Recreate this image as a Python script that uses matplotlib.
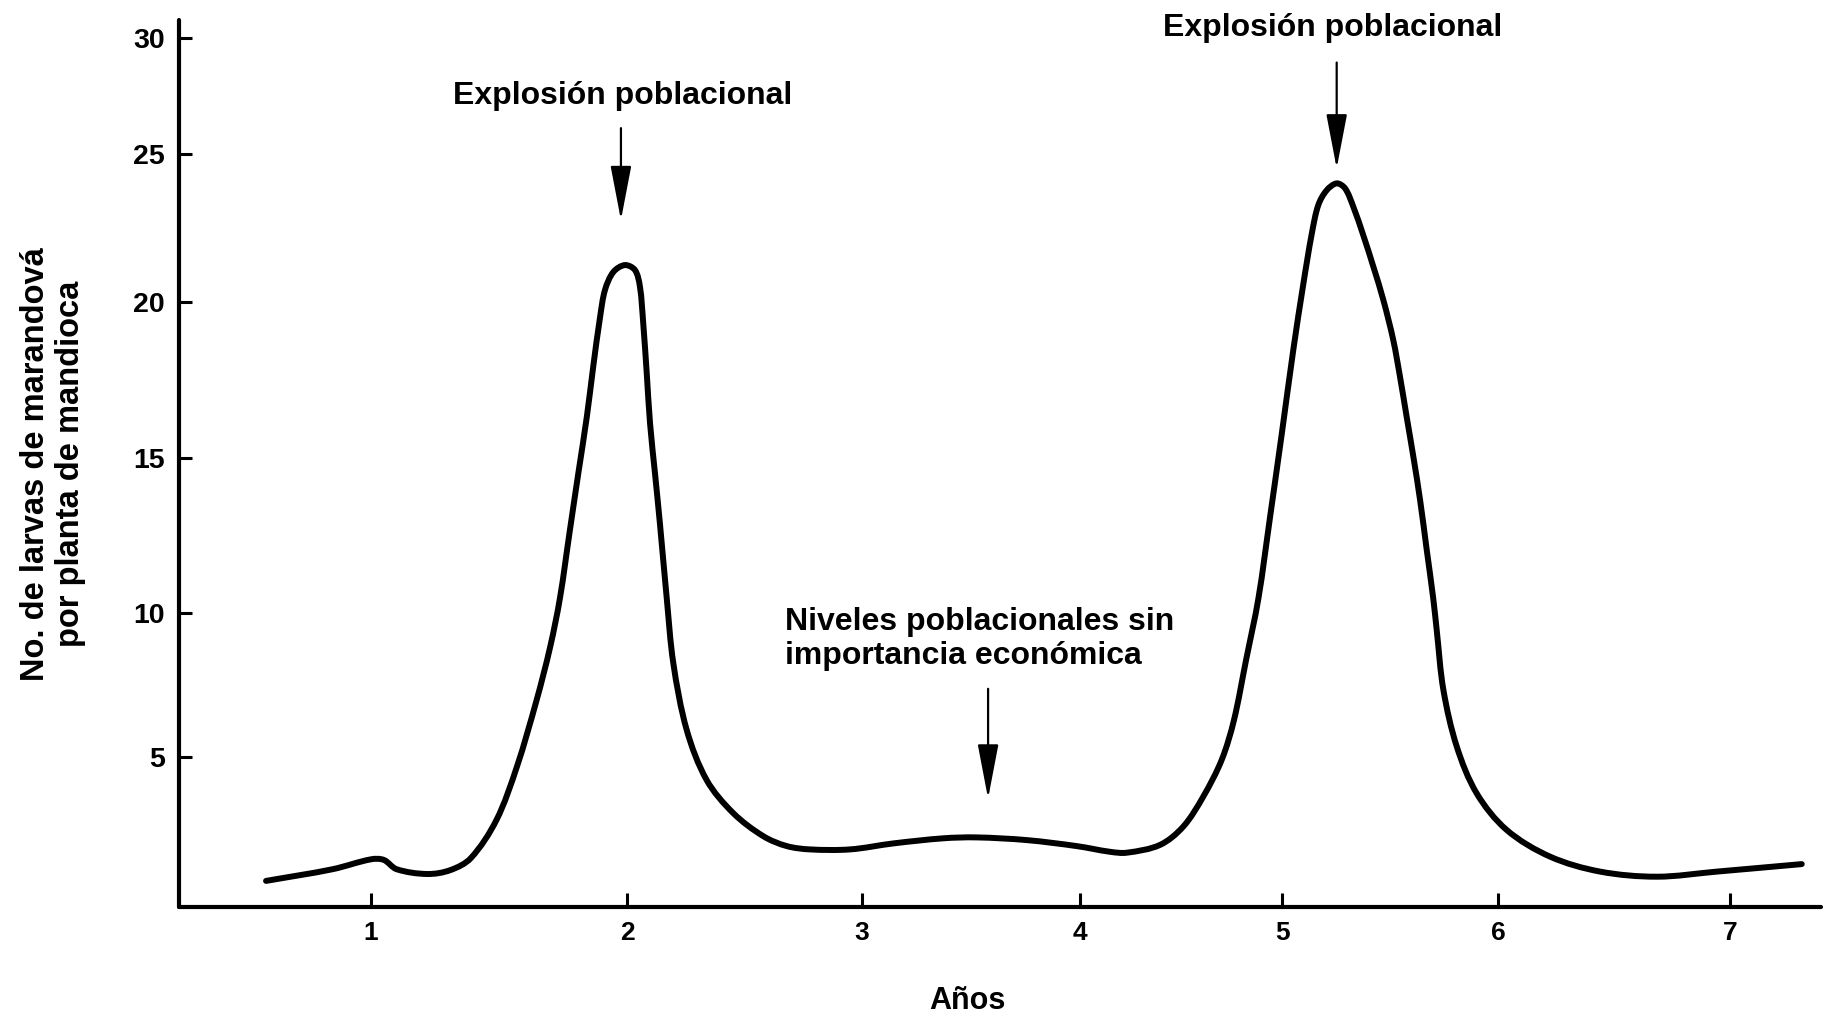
import numpy as np
import matplotlib
matplotlib.use("Agg")
import matplotlib.pyplot as plt
from matplotlib.patches import ArrowStyle, PathPatch
from matplotlib.path import Path
from matplotlib.transforms import offset_copy

# ---------------- data ----------------
years = [0.59, 0.85, 1.00, 1.05, 1.10, 1.22, 1.31, 1.39, 1.49, 1.57,
         1.647, 1.70, 1.738, 1.777, 1.810, 1.843, 1.868, 1.895, 1.914, 1.947,
         1.992, 2.034, 2.055, 2.069, 2.084, 2.098, 2.119, 2.140, 2.169, 2.197,
         2.254, 2.339, 2.452, 2.580, 2.680, 2.779, 2.949, 3.144, 3.373, 3.526,
         3.756, 3.985, 4.149, 4.231, 4.396, 4.511, 4.610, 4.701, 4.762, 4.822,
         4.883, 4.941, 4.999, 5.052, 5.099, 5.138, 5.168, 5.207, 5.253, 5.292,
         5.330, 5.376, 5.423, 5.469, 5.515, 5.546, 5.577, 5.608, 5.639, 5.670,
         5.700, 5.716, 5.747, 5.809, 5.901, 6.037, 6.224, 6.440, 6.684, 6.943,
         7.309]
larvae = [0.87, 1.26, 1.59, 1.57, 1.26, 1.10, 1.23, 1.63, 2.9, 4.68,
          6.98, 8.83, 10.48, 12.68, 14.52, 16.32, 17.93, 19.53, 20.41, 21.02,
          21.25, 21.08, 20.52, 19.32, 17.71, 16.11, 14.51, 12.89, 10.48, 8.26,
          5.94, 4.23, 3.13, 2.36, 2.03, 1.92, 1.92, 2.12, 2.29, 2.32,
          2.23, 2.03, 1.84, 1.81, 2.07, 2.68, 3.68, 4.9, 6.28, 8.37,
          10.47, 13.11, 15.79, 18.46, 20.63, 22.32, 23.28, 23.78, 24.01, 23.84,
          23.22, 22.26, 21.19, 20.07, 18.78, 17.61, 16.32, 15.04, 13.65, 12.03,
          10.47, 9.41, 7.33, 5.36, 3.79, 2.57, 1.68, 1.18, 1.01, 1.18,
          1.43]

x_ticks = [1, 2, 3, 4, 5, 6, 7]
x_tick_labels = ["1", "2", "3", "4", "5", "6", "7"]
y_ticks = [5, 10, 15, 20, 25, 30]
y_tick_labels = ["5", "10", "15", "20", "25", "30"]

label_peak = "Explosión poblacional"
label_low = "Niveles poblacionales sin\nimportancia económica"
x_label = "Años"
y_label = "No. de larvas de marandová\npor planta de mandioca"

# ---------------- hand-drawn (uneven) axis scales ----------------
# relative drawn length of each unit along the axes of the original figure
X_KNOTS = [-100, 0, 1, 2, 3, 4, 5, 6, 7, 8, 100]
X_DRAWN = [115 - 100 * 256, 115, 371, 627, 862, 1080, 1282, 1498, 1730, 1962,
           1962 + 92 * 232]
Y_KNOTS = [-100, 0, 5, 10, 15, 20, 25, 30, 100]
Y_DRAWN = [-(907 + 100 * 30), -907, -757, -613, -458, -302, -154, -38,
           -(38 - 70 * 23.2)]


def x_fwd(v):
    return np.interp(np.asarray(v, float), X_KNOTS, X_DRAWN)


def x_inv(v):
    return np.interp(np.asarray(v, float), X_DRAWN, X_KNOTS)


def y_fwd(v):
    return np.interp(np.asarray(v, float), Y_KNOTS, Y_DRAWN)


def y_inv(v):
    return np.interp(np.asarray(v, float), Y_DRAWN, Y_KNOTS)


# ---------------- figure ----------------
plt.rcParams["font.family"] = ["Liberation Sans", "DejaVu Sans"]
plt.rcParams["font.weight"] = "bold"

W, H, DPI = 1831, 1019, 100
fig = plt.figure(figsize=(W / DPI, H / DPI), dpi=DPI)
ax = fig.add_axes([179 / W, (H - 907) / H, (1821 - 179) / W, (907 - 20) / H])

ax.set_xscale("function", functions=(x_fwd, x_inv))
ax.set_yscale("function", functions=(y_fwd, y_inv))
ax.set_xlim(0.25, 7.392)
ax.set_ylim(0, 30.78)

# smooth curve through every data point (chord-length Catmull-Rom as
# cubic Bezier, built in the scaled space of the axes and drawn there)
xs = np.array(years, float)
ys = np.array(larvae, float)
P = np.column_stack([ax.xaxis.get_transform().transform(xs),
                     ax.yaxis.get_transform().transform(ys)])
n = len(P)
d = np.hypot(*np.diff(P, axis=0).T)          # chord lengths
T = np.zeros_like(P)
for k in range(n):
    if k == 0:
        T[k] = (P[1] - P[0]) / d[0]
    elif k == n - 1:
        T[k] = (P[-1] - P[-2]) / d[-1]
    else:
        T[k] = (P[k + 1] - P[k - 1]) / (d[k - 1] + d[k])
verts = [P[0]]
codes = [Path.MOVETO]
for k in range(n - 1):
    verts += [P[k] + T[k] * d[k] / 3.0, P[k + 1] - T[k + 1] * d[k] / 3.0,
              P[k + 1]]
    codes += [Path.CURVE4] * 3
curve = PathPatch(Path(np.array(verts), codes), facecolor="none",
                  edgecolor="black", lw=4.3, joinstyle="round",
                  capstyle="round", transform=ax.transLimits + ax.transAxes)
ax.add_patch(curve)

ax.set_xticks(x_ticks)
ax.set_xticklabels(x_tick_labels)
ax.set_yticks(y_ticks)
ax.set_yticklabels(y_tick_labels)
ax.minorticks_off()

for s in ("top", "right"):
    ax.spines[s].set_visible(False)
for s in ("left", "bottom"):
    ax.spines[s].set_linewidth(3.0)
    ax.spines[s].set_capstyle("round")

ax.tick_params(axis="y", direction="in", length=9.5, width=2.2, pad=10,
               labelsize=20.5)
ax.tick_params(axis="x", direction="in", length=10, width=2.2, pad=10,
               labelsize=19)
for lab in ax.get_xticklabels() + ax.get_yticklabels():
    lab.set_fontweight("bold")

# ---------------- annotations ----------------
m1 = xs < 3
i1 = int(np.argmax(np.where(m1, ys, -1)))
m2 = xs > 4.5
i2 = int(np.argmax(np.where(m2, ys, -1)))
m3 = (xs > 3) & (xs < 4.5)
i3 = int(np.argmax(np.where(m3, ys, -1)))

arrow_style = ArrowStyle("-|>", head_length=3.4, head_width=0.65)


def down_arrow(i, dx, tip_dy, tail_dy):
    p = (xs[i], ys[i])
    tr_tip = offset_copy(ax.transData, fig=fig, x=dx, y=tip_dy, units="points")
    tr_tail = offset_copy(ax.transData, fig=fig, x=dx, y=tail_dy, units="points")
    ax.annotate("", xy=p, xycoords=tr_tip, xytext=p, textcoords=tr_tail,
                arrowprops=dict(arrowstyle=arrow_style, mutation_scale=10,
                                lw=1.6, color="black", shrinkA=0, shrinkB=0))


down_arrow(i1, -2.9, 32.4, 98.6)
down_arrow(i2, 0.0, 10.8, 87.0)
down_arrow(i3, 8.2, 28.0, 107.0)

ax.annotate(label_peak, xy=(xs[i1], ys[i1]), xytext=(-2.0, 121.5),
            textcoords="offset points", ha="center", va="center",
            fontsize=23, fontweight="bold", annotation_clip=False)
ax.annotate(label_peak, xy=(xs[i2], ys[i2]), xytext=(-2.9, 112.0),
            textcoords="offset points", ha="center", va="center",
            fontsize=23, fontweight="bold", annotation_clip=False)
ax.annotate(label_low, xy=(xs[i3], ys[i3]), xytext=(-138.0, 143.0),
            textcoords="offset points", ha="left", va="center",
            multialignment="left", fontsize=23, fontweight="bold",
            linespacing=1.15, annotation_clip=False)

# ---------------- axis titles ----------------
fig.text(967 / W, 1 - 1001 / H, x_label, ha="center", va="center",
         fontsize=22, fontweight="bold")
fig.text(53 / W, 1 - 464 / H, y_label, ha="center", va="center",
         rotation=90, multialignment="center", fontsize=23.5,
         fontweight="bold", linespacing=1.15)

fig.savefig("out.png", dpi=DPI, facecolor="white")
